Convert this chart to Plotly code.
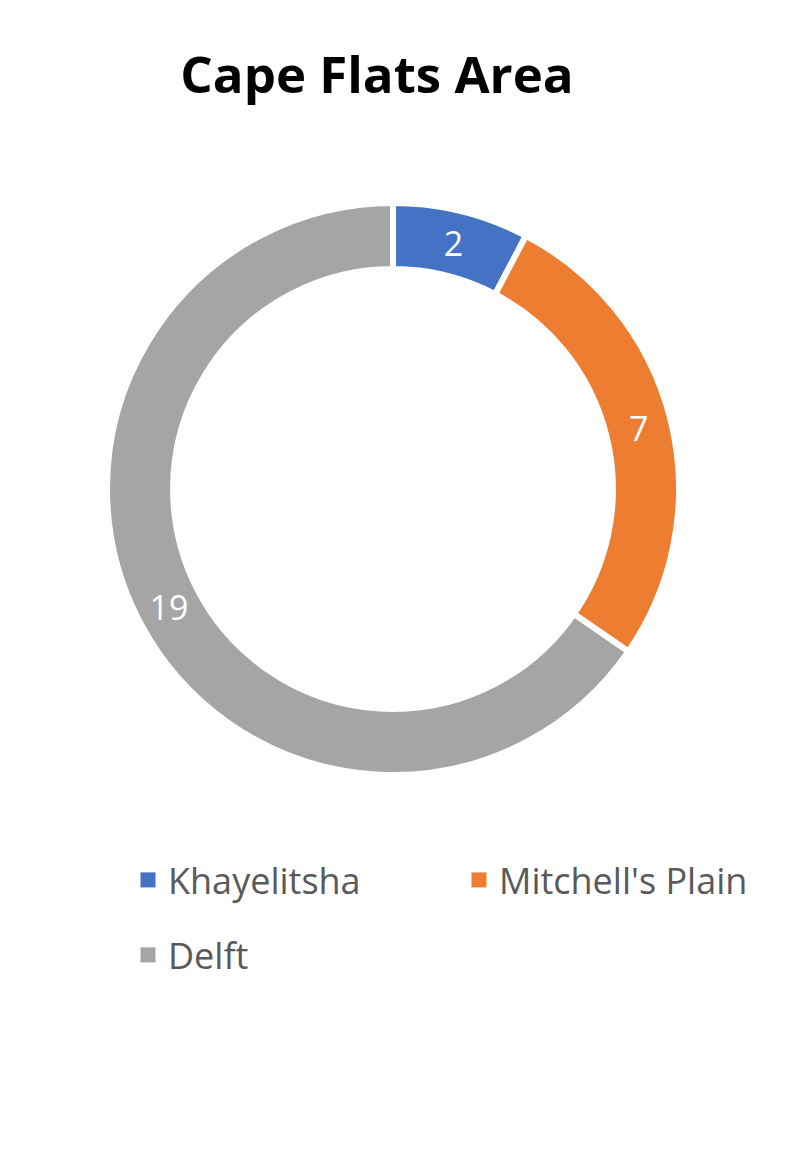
import plotly.graph_objects as go

labels = ["Khayelitsha", "Mitchell's Plain", "Delft"]
# slice sizes as drawn in the reference (angles 27.7°, 96.9°, 235.4°)
values = [2, 7, 17]
# data labels as printed on the slices
data_labels = ["2", "7", "19"]
colors = ["#4472C4", "#ED7D31", "#A5A5A5"]
legend_ids = ["legend", "legend", "legend2"]

W, H = 786, 1157
cx, cy, R = 393, 489, 286

fig = go.Figure()
fig.add_trace(go.Pie(
    labels=labels,
    values=values,
    text=data_labels,
    marker=dict(colors=colors, line=dict(color="white", width=6)),
    hole=0.769,
    sort=False,
    direction="clockwise",
    rotation=0,
    textinfo="text",
    textposition="inside",
    insidetextorientation="horizontal",
    textfont=dict(color="white", size=34, family="Open Sans"),
    domain=dict(x=[(cx - R) / W, (cx + R) / W], y=[1 - (cy + R) / H, 1 - (cy - R) / H]),
    showlegend=False,
    hoverinfo="label+text",
))

for lab, col, lg in zip(labels, colors, legend_ids):
    fig.add_trace(go.Scatter(
        x=[None], y=[None], mode="markers", name=lab,
        marker=dict(symbol="square", size=15, color=col),
        legend=lg, showlegend=True, hoverinfo="skip",
    ))

legfont = dict(family="Open Sans", size=36, color="#595959")
fig.update_layout(
    width=W, height=H,
    margin=dict(l=0, r=0, t=0, b=0, autoexpand=False),
    paper_bgcolor="white",
    plot_bgcolor="white",
    xaxis=dict(visible=False), yaxis=dict(visible=False),
    title=dict(text="<b>Cape Flats Area</b>", x=377 / W, xanchor="center",
               y=1 - 75 / H, yanchor="middle",
               font=dict(family="Open Sans", size=51, color="black")),
    legend=dict(orientation="h", x=128 / W, xanchor="left", y=1 - 880 / H, yanchor="middle",
                entrywidth=286, entrywidthmode="pixels",
                font=legfont, bgcolor="rgba(0,0,0,0)"),
    legend2=dict(orientation="h", x=128 / W, xanchor="left", y=1 - 955 / H, yanchor="middle",
                 font=legfont, bgcolor="rgba(0,0,0,0)"),
)

fig.write_html("out.html")
